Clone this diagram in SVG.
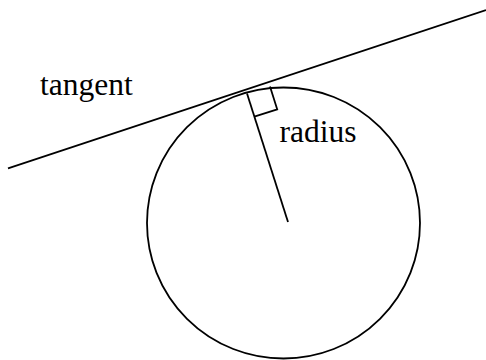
<svg xmlns="http://www.w3.org/2000/svg" width="486" height="360" viewBox="0 0 486 360">
<style>
.s{fill:none;stroke:#000;stroke-width:1.8}
.t{font-family:'Liberation Serif','Times New Roman','DejaVu Serif',serif;font-size:31.5px;fill:#000}
</style>
<rect width="486" height="360" fill="#fff"/>
<g id="circle"><ellipse class="s" cx="283.5" cy="223" rx="136.5" ry="135.5"/></g>
<g id="tangent"><line class="s" x1="8" y1="168.3" x2="486" y2="10"/><text class="t" x="40" y="95">tangent</text></g>
<g id="radius"><line class="s" x1="247" y1="93.5" x2="288" y2="222"/><polyline class="s" points="254.3,116.6 277.2,109.3 270,86.4"/><text class="t" x="279.5" y="142">radius</text></g>
</svg>
